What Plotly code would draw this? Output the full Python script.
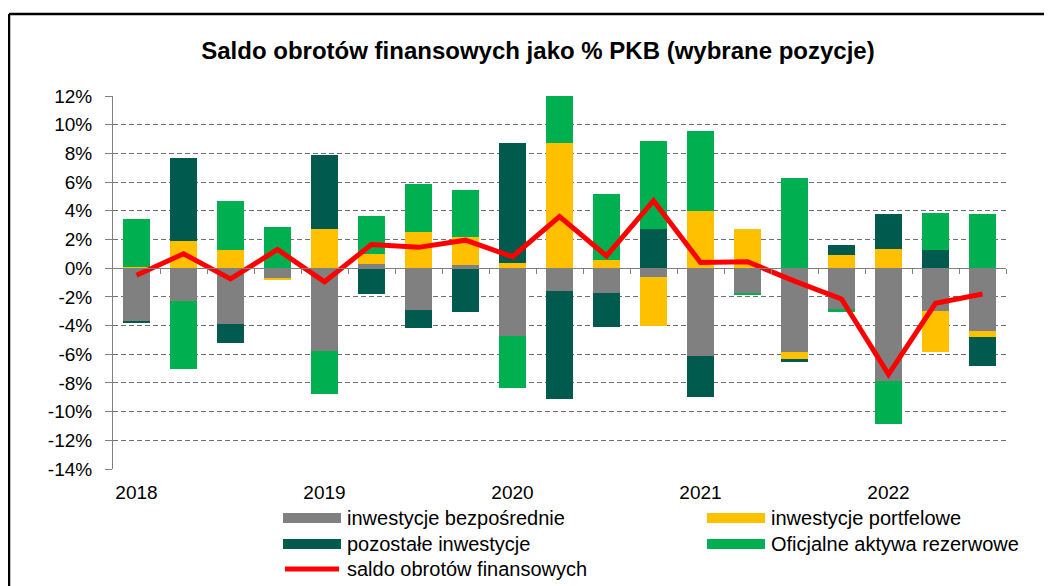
import plotly.graph_objects as go

quarters = [f"{y} Q{q}" for y in range(2018, 2023) for q in range(1, 5)][:19]
year_ticks = ["2018 Q1", "2019 Q1", "2020 Q1", "2021 Q1", "2022 Q1"]
year_labels = ["2018", "2019", "2020", "2021", "2022"]

series_names = ["inwestycje bezpośrednie", "inwestycje portfelowe",
                "pozostałe inwestycje", "Oficjalne aktywa rezerwowe"]
line_name = "saldo obrotów finansowych"

fdi = [-3.7, -2.3, -3.9, -0.7, -5.8, 0.3, -2.9, 0.2, -4.7, -1.6,
       -1.7, -0.6, -6.1, -1.75, -5.85, -2.85, -7.85, -3.0, -4.35]
portfolio = [0.1, 1.9, 1.3, -0.08, 2.7, 0.7, 2.5, 1.95, 0.35, 8.7,
             0.55, -3.4, 3.95, 2.7, -0.47, 0.93, 1.35, -2.85, -0.45]
other_inv = [-0.08, 5.8, -1.35, 0.0, 5.2, -1.8, -1.3, -3.05, 8.35, -7.5,
             -2.4, 2.7, -2.85, 0.0, -0.25, 0.7, 2.42, 1.28, -2.05]
reserves = [3.3, -4.7, 3.35, 2.9, -2.95, 2.67, 3.4, 3.3, -3.65, 3.35,
            4.65, 6.15, 5.6, -0.13, 6.28, -0.2, -3.0, 2.58, 3.77]
balance = [-0.5, 1.0, -0.75, 1.3, -0.95, 1.65, 1.45, 1.95, 0.8, 3.6,
           0.85, 4.7, 0.4, 0.45, -0.9, -2.15, -7.4, -2.45, -1.8]

y_ticks = list(range(-14, 13, 2))

colors = ["#808080", "#FFC000", "#005A4E", "#00B050"]
red = "#FF0000"

W, H = 1052, 586
OFF = 8  # page body margin
L, T = 113 - OFF, 96 - OFF
PW, PH = 893, 373
R, B = W - L - PW, H - T - PH


def xp(px):
    return (px - 113) / PW


def yp(py):
    return (469 - py) / PH


fig = go.Figure()
for name, vals, col in zip(series_names, [fdi, portfolio, other_inv, reserves], colors):
    fig.add_trace(go.Bar(x=quarters, y=vals, name=name, marker_color=col,
                         marker_line_width=0, width=0.57, showlegend=False))
fig.add_trace(go.Scatter(x=quarters, y=balance, name=line_name, mode="lines",
                         line=dict(color=red, width=5), showlegend=False))
# helper axis at zero with boundary ticks
fig.add_trace(go.Scatter(x=[None], y=[None], xaxis="x2", showlegend=False,
                         hoverinfo="skip"))

font_main = "Liberation Sans, Arial, sans-serif"

fig.update_layout(
    width=W, height=H,
    margin=dict(l=L, r=R, t=T, b=B),
    paper_bgcolor="white", plot_bgcolor="white",
    barmode="relative", bargap=0,
    showlegend=False,
    title=dict(text="<b>Saldo obrotów finansowych jako % PKB (wybrane pozycje)</b>",
               x=(538 - OFF) / W, xref="container", xanchor="center",
               y=1 - (51 - OFF) / H, yref="container", yanchor="middle",
               font=dict(family=font_main, size=24, color="black")),
    xaxis=dict(type="category", categoryorder="array", categoryarray=quarters,
               range=[-0.5, 18.5], tickvals=year_ticks, ticktext=year_labels,
               showgrid=False, showline=False, zeroline=False, ticks="",
               ticklabelstandoff=10,
               tickfont=dict(family=font_main, size=19, color="black")),
    xaxis2=dict(overlaying="x", anchor="free", position=14 / 26,
                range=[-0.5, 18.5], tickvals=[i + 0.5 for i in range(19)],
                showticklabels=False, ticks="outside", ticklen=5,
                tickcolor="#808080", showline=True, linecolor="#808080",
                linewidth=1, showgrid=False, zeroline=False),
    yaxis=dict(range=[-14, 12], tickvals=y_ticks,
               ticktext=[f"{v}%" for v in y_ticks],
               showgrid=True, gridcolor="#707070", griddash="5px,3px", gridwidth=1,
               showline=True, linecolor="#808080", linewidth=1,
               ticks="outside", ticklen=7, tickcolor="#808080",
               zeroline=False, ticklabelstandoff=9,
               tickfont=dict(family=font_main, size=19, color="black")),
)

shapes = []
# frame
shapes.append(dict(type="line", xref="paper", yref="paper",
                   x0=xp(9), x1=xp(1070), y0=yp(14), y1=yp(14),
                   line=dict(color="black", width=2.5)))
shapes.append(dict(type="line", xref="paper", yref="paper",
                   x0=xp(9), x1=xp(9), y0=yp(14), y1=yp(600),
                   line=dict(color="black", width=2.5)))

# manual legend
leg_items = [
    (series_names[0], colors[0], "bar", 283, 518),
    (series_names[1], colors[1], "bar", 707, 518),
    (series_names[2], colors[2], "bar", 283, 544),
    (series_names[3], colors[3], "bar", 707, 544),
    (line_name, red, "line", 283, 569),
]
annotations = []
for name, col, kind, px0, pyc in leg_items:
    if kind == "bar":
        shapes.append(dict(type="rect", xref="paper", yref="paper",
                           x0=xp(px0), x1=xp(px0 + 58), y0=yp(pyc - 5), y1=yp(pyc + 5),
                           fillcolor=col, line=dict(width=0)))
    else:
        shapes.append(dict(type="line", xref="paper", yref="paper",
                           x0=xp(px0 + 2), x1=xp(px0 + 56), y0=yp(pyc), y1=yp(pyc),
                           line=dict(color=col, width=5)))
    annotations.append(dict(text=name, xref="paper", yref="paper",
                            x=xp(px0 + 62), y=yp(pyc), xanchor="left", yanchor="middle",
                            showarrow=False,
                            font=dict(family=font_main, size=20, color="black")))

fig.update_layout(shapes=shapes, annotations=annotations)

fig.write_html("out.html")
